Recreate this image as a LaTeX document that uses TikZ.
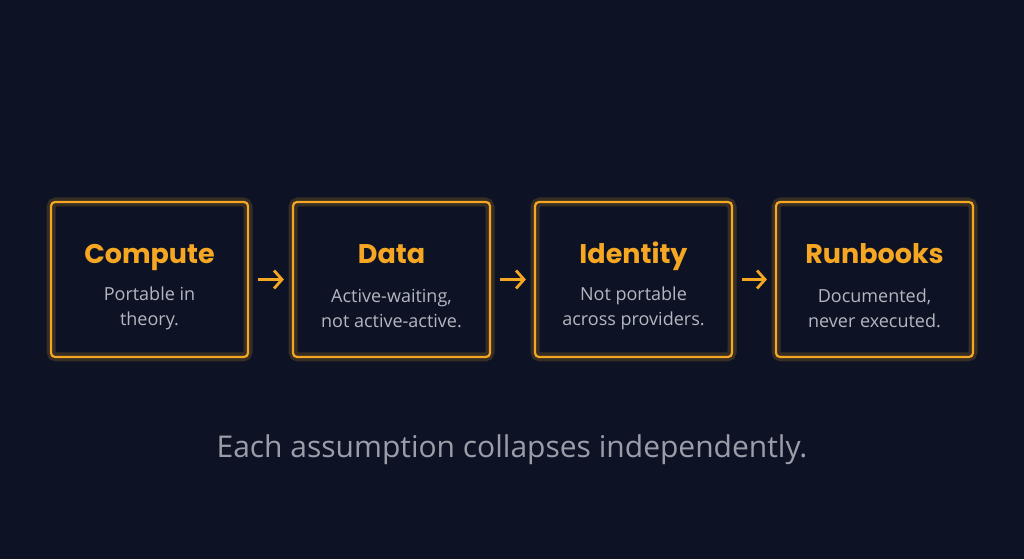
\documentclass[tikz,border=0pt]{standalone}
\usepackage{fontspec}
\setmainfont{Poppins}
\newfontfamily\bodyfont{Open Sans}
\usetikzlibrary{positioning,arrows.meta}
\definecolor{bg}{HTML}{0D1325}
\definecolor{amber}{HTML}{F5A623}
\definecolor{note}{HTML}{B3B7C0}
\begin{document}
\begin{tikzpicture}
  [
  x=1pt, y=1pt,
  stepbox/.style={rectangle, rounded corners=4pt, minimum width=197pt, minimum height=155pt,
    draw=amber, line width=2.2pt, inner sep=0pt},
  glow/.style={rectangle, rounded corners=5pt, minimum width=197pt, minimum height=155pt,
    draw=amber, draw opacity=0.18, line width=9pt, inner sep=0pt},
  title/.style={font=\fontsize{27}{30}\selectfont\bfseries, text=amber, anchor=base},
  sub/.style={font=\bodyfont\fontsize{18}{25}\selectfont, text=note, align=center},
  link/.style={-{Straight Barb[length=8pt,width=18pt,line width=2.8pt]}, draw=amber, line width=2.8pt},
  ]
\fill[bg] (0,0) rectangle (1024,559);
\useasboundingbox (0,0) rectangle (1024,559);

\foreach \n/\x in {compute/149.5, data/391.5, identity/633.5, runbooks/874.5} {
  \node[glow] at (\x,279.5) {};
  \node[stepbox] (\n) at (\x,279.5) {};
}

\node[title] at ([yshift=16pt]compute.center) {Compute};
\node[title] at ([yshift=16pt]data.center) {Data};
\node[title] at ([yshift=16pt]identity.center) {Identity};
\node[title] at ([yshift=16pt]runbooks.center) {Runbooks};

\node[sub] at ([yshift=-29pt]compute.center) {Portable in\\theory.};
\node[sub] at ([yshift=-29pt]data.center) {Active-waiting,\\not active-active.};
\node[sub] at ([yshift=-29pt]identity.center) {Not portable\\across providers.};
\node[sub] at ([yshift=-29pt]runbooks.center) {Documented,\\never executed.};

\draw[link] ([xshift=9pt]compute.east) -- ([xshift=-8pt]data.west);
\draw[link] ([xshift=9pt]data.east) -- ([xshift=-8pt]identity.west);
\draw[link] ([xshift=9pt]identity.east) -- ([xshift=-8pt]runbooks.west);

\node[font=\bodyfont\fontsize{30}{34}\selectfont, text=note!85!bg] (caption) at (512,109)
  {Each assumption collapses independently.};
\end{tikzpicture}
\end{document}
